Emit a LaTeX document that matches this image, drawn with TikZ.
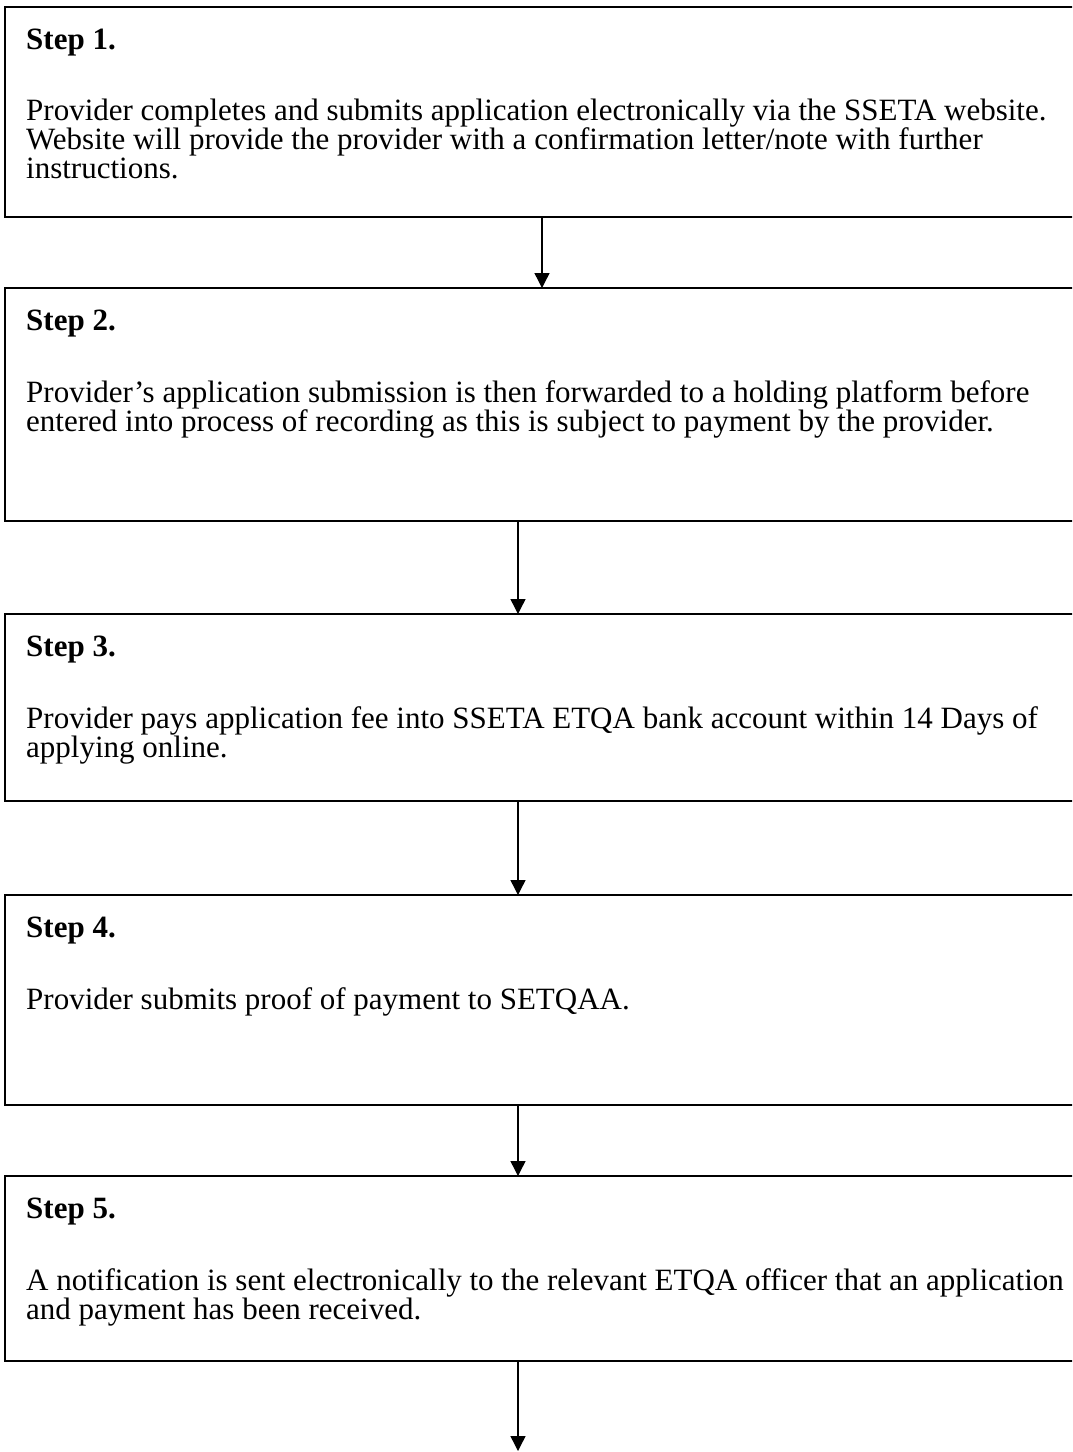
\documentclass[tikz,border=0pt]{standalone}
\usepackage{fontspec}
\setmainfont{Liberation Serif}
\usetikzlibrary{positioning,arrows.meta}

\begin{document}
\begin{tikzpicture}[x=1pt, y=1pt, font=\fontsize{31}{29}\selectfont]
	\tikzstyle{Box} = [draw=black, line width=1.6pt, minimum width=1074pt, inner sep=0pt, outer sep=0pt]
	\tikzstyle{Head} = [font=\fontsize{31}{29}\selectfont\bfseries, inner sep=0pt]
	\tikzstyle{Body} = [align=left, inner sep=0pt]
	\tikzstyle{Link} = [line width=1.4pt, -{Triangle[length=15pt, width=15pt]}]
	
	\useasboundingbox (0,0) rectangle (1072,-1452);
	\clip (0,0) rectangle (1072,-1452);
	
	\node[name=box1, Box, minimum height=210pt] at (542,-112) {};
	\node[name=box2, Box, minimum height=233pt, below=71pt of box1] {};
	\node[name=box3, Box, minimum height=187pt, below=93pt of box2] {};
	\node[name=box4, Box, minimum height=210pt, below=94pt of box3] {};
	\node[name=box5, Box, minimum height=185pt, below=71pt of box4] {};
	\coordinate (tail) at (518,-1451);
	
	\node[name=h1, Head, below right=22pt and 21pt of box1.north west] {Step 1.};
	\node[name=h2, Head, below right=22pt and 21pt of box2.north west] {Step 2.};
	\node[name=h3, Head, below right=22pt and 21pt of box3.north west] {Step 3.};
	\node[name=h4, Head, below right=22pt and 21pt of box4.north west] {Step 4.};
	\node[name=h5, Head, below right=22pt and 21pt of box5.north west] {Step 5.};
	
	\node[name=t1, Body, below right=92pt and 21pt of box1.north west]{Provider completes and submits application electronically via the SSETA website.\\Website will provide the provider with a confirmation letter/note with further\\instructions.};
	\node[name=t2, Body, below right=92pt and 21pt of box2.north west]{Provider’s application submission is then forwarded to a holding platform before\\entered into process of recording as this is subject to payment by the provider.};
	\node[name=t3, Body, below right=92pt and 21pt of box3.north west]{Provider pays application fee into SSETA ETQA bank account within 14 Days of\\applying online.};
	\node[name=t4, Body, below right=92pt and 21pt of box4.north west]{Provider submits proof of payment to SETQAA.};
	\node[name=t5, Body, below right=92pt and 21pt of box5.north west]{A notification is sent electronically to the relevant ETQA officer that an application\\and payment has been received.};
	
	\draw[Link] (box1.south) -- (box2.north);
	\draw[Link] ([xshift=-24pt]box2.south) -- ([xshift=-24pt]box3.north);
	\draw[Link] ([xshift=-24pt]box3.south) -- ([xshift=-24pt]box4.north);
	\draw[Link] ([xshift=-24pt]box4.south) -- ([xshift=-24pt]box5.north);
	\draw[Link] ([xshift=-24pt]box5.south) -- (tail);
\end{tikzpicture}
\end{document}
